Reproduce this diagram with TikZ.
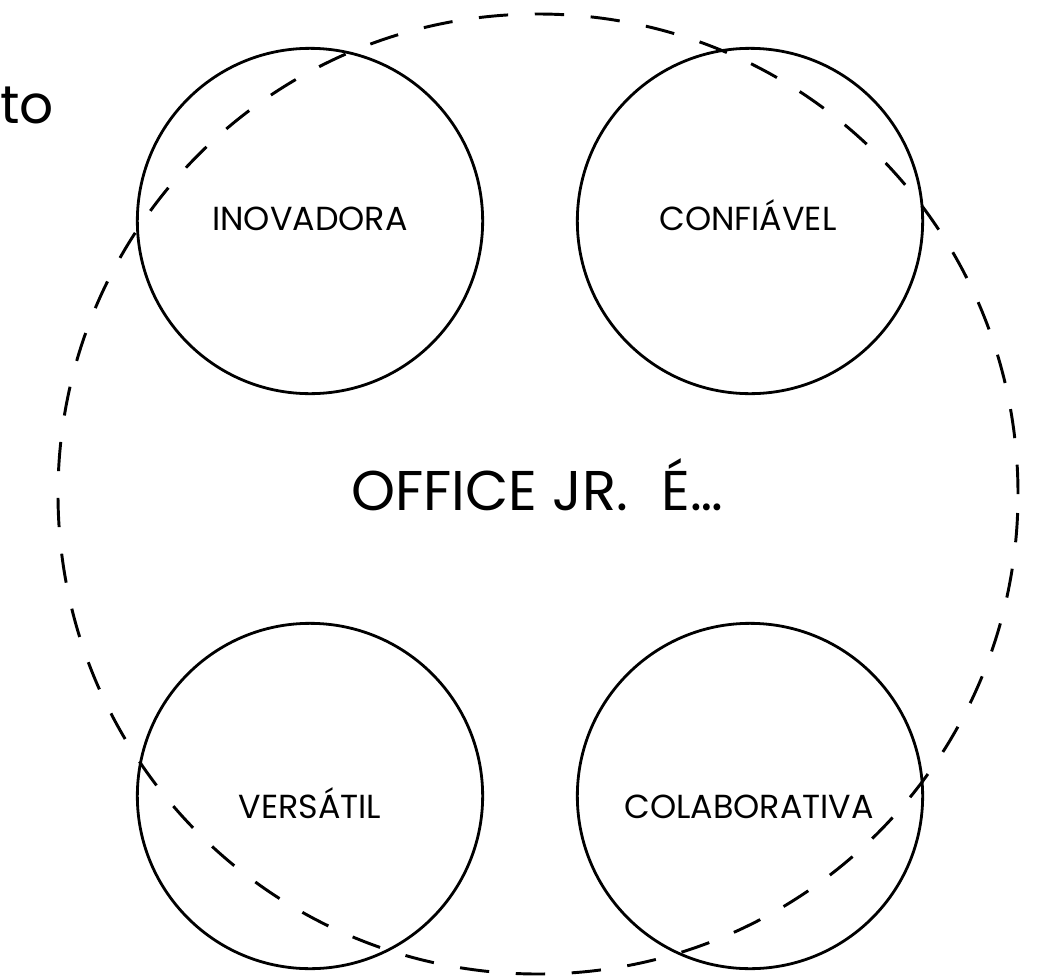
\documentclass[tikz,border=0pt]{standalone}
\usepackage{fontspec}
\setmainfont{Poppins}

\tikzset{
  ring/.style={circle, draw, line width=2.2pt, dash pattern=on 22pt off 20pt, minimum size=720pt, inner sep=0pt},
  value/.style={circle, draw, line width=2.1pt, minimum size=259pt, inner sep=0pt},
  tag/.style={anchor=base, inner sep=0pt, font=\fontsize{25}{28}\selectfont},
}

\begin{document}
\begin{tikzpicture}[x=0.75pt, y=-0.75pt]

\useasboundingbox (0,0) rectangle (1047,979);

% Cercle central
\node[ring] (office) at (538,494) {};
\node[tag, font=\fontsize{42}{46}\selectfont] (title) at (537,510) {OFFICE JR.\hspace{0.6em}É…};

% Valeurs
\node[value] (inov) at (310,221) {};
\node[value] (conf) at (750,221) {};
\node[value] (vers) at (310,796) {};
\node[value] (colab) at (750,796) {};

\node[tag] (inovtxt) at (310,230) {INOVADORA};
\node[tag] (conftxt) at (748,230) {CONFIÁVEL};
\node[tag] (verstxt) at (310,818) {VERSÁTIL};
\node[tag] (colabtxt) at (749,818) {COLABORATIVA};

% Texte coupé
\node[anchor=base east, inner sep=0pt, font=\fontsize{40}{44}\selectfont] (frag) at (54,123) {to};

\end{tikzpicture}
\end{document}
